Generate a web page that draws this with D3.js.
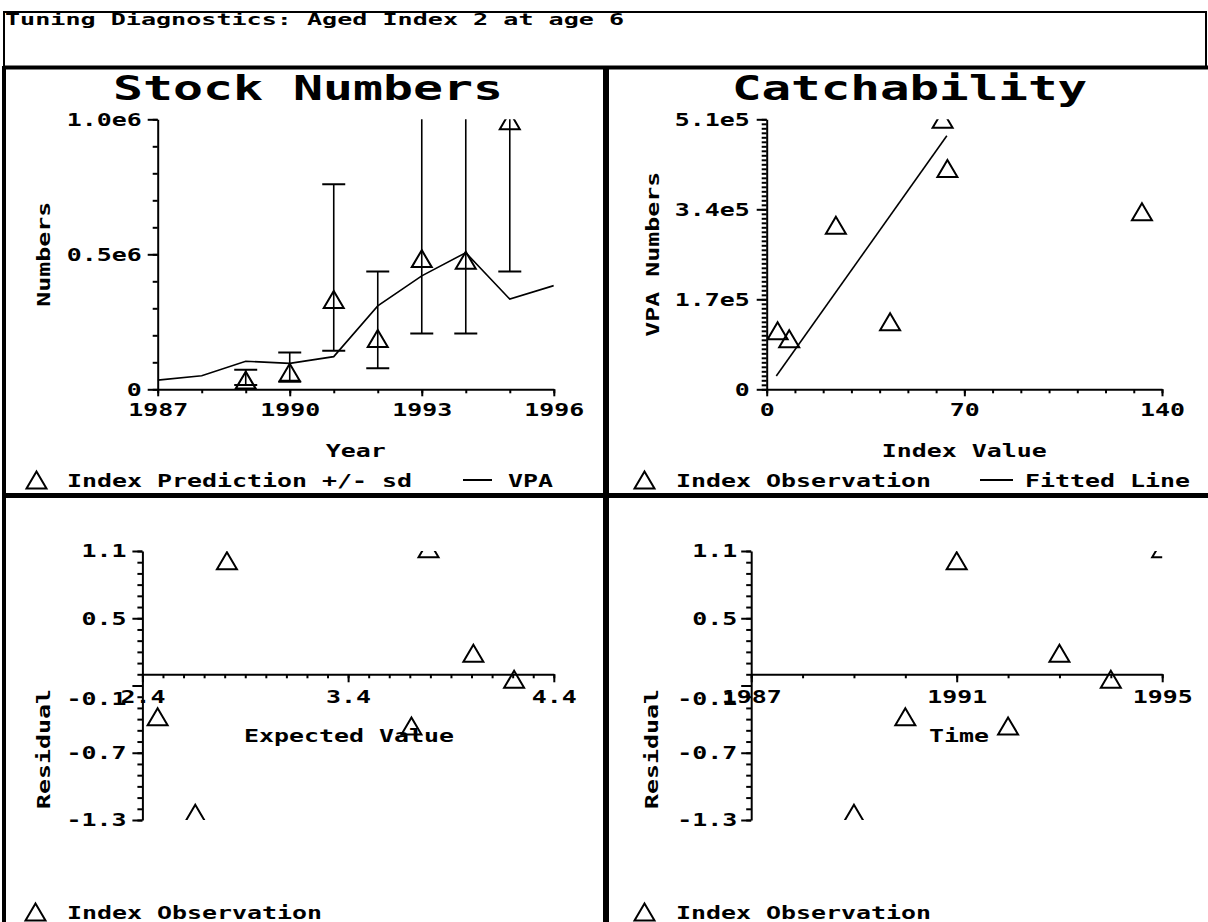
<!DOCTYPE html>
<html>
<head>
<meta charset="utf-8">
<script src="https://cdn.jsdelivr.net/npm/d3@7"></script>
<style>
  body { margin: 0; background: #fff; }
  svg { display: block; }
  text { font-family: "DejaVu Sans Mono", "Liberation Mono", monospace; font-weight: bold; fill: #000; }
</style>
</head>
<body>
<svg id="chart" width="1208" height="922"></svg>
<script>
// ---- Stock numbers: VPA by year ----
const vpaYears = [1987, 1988, 1989, 1990, 1991, 1992, 1993, 1994, 1995, 1996];
const vpaNumbers = [34000, 50000, 104000, 96000, 121000, 309000, 420000, 506000, 334000, 384000];

// ---- Index prediction +/- sd ----
const obsYears = [1989, 1990, 1991, 1992, 1993, 1994, 1995];
const predNumbers = [34000, 63000, 333000, 188000, 484000, 478000, 995000];
const predLow = [16000, 28000, 143000, 78000, 207000, 207000, 436000];
const predHigh = [72000, 136000, 759000, 436000, 1130000, 1100000, 2270000];

// ---- Catchability: index value vs VPA numbers ----
const indexValues = [3.86, 7.97, 24.5, 43.7, 64.0, 62.3, 132.9];
const vpaAtIndex = [110700, 95600, 309800, 127700, 417000, 510000, 335500];
const fittedX = [3.4, 63.8];
const fittedY = [25000, 479000];

// ---- Residuals ----
const expectedValues = [2.657, 2.474, 2.811, 3.708, 4.009, 4.207, 3.791];
const residuals = [-1.24, -0.378, 1.013, -0.461, 0.187, -0.045, 1.12];

// ---- Tick labels ----
const stockYTicks = [0, 500000, 1000000];
const stockYLabels = ["0", "0.5e6", "1.0e6"];
const stockXTicks = [1987, 1990, 1993, 1996];
const catchYTicks = [0, 170000, 340000, 510000];
const catchYLabels = ["0", "1.7e5", "3.4e5", "5.1e5"];
const catchXTicks = [0, 70, 140];
const residYTicks = [1.1, 0.5, -0.1, -0.7, -1.3];
const expectedXTicks = [2.4, 3.4, 4.4];
const timeXTicks = [1987, 1991, 1995];

const svg = d3.select("#chart");
const CW = 15;       // advance per character for the regular text
const FS = 18;       // regular font size

// Stretched monospace text, vertically centred on y
function txt(g, str, x, y, o = {}) {
  const size = o.size || FS, cw = o.cw || CW;
  return g.append("text")
    .attr("transform", `translate(${x},${y})` + (o.rotate ? ` rotate(${o.rotate})` : ""))
    .attr("x", 0).attr("y", 0.365 * size)
    .attr("font-size", size)
    .attr("text-anchor", o.anchor || "start")
    .attr("textLength", str.length * cw)
    .attr("lengthAdjust", "spacingAndGlyphs")
    .text(str);
}

const TRI = "M0,-8.5L10,8.5L-10,8.5Z";
function triangle(g, x, y) {
  return g.append("path").attr("d", TRI)
    .attr("transform", `translate(${x},${y})`)
    .attr("fill", "none").attr("stroke", "#000").attr("stroke-width", 2);
}

function styleAxis(g) {
  g.attr("font-family", null).attr("font-size", null).style("color", "#000");
  g.selectAll("path.domain, .tick line").attr("stroke-width", 2);
  g.selectAll(".tick text").each(function () {
    const s = this.textContent;
    d3.select(this).attr("font-size", FS)
      .attr("textLength", s.length * CW).attr("lengthAdjust", "spacingAndGlyphs");
  });
}

// Draws an axis: minor ticks with the axis line, then labelled major ticks
function drawAxis(g, axisFn, scale, minor, major, labelOf, size, pad, minorSize, translate) {
  const gm = g.append("g").attr("transform", translate)
    .call(axisFn(scale).tickValues(minor).tickSize(minorSize).tickSizeOuter(0).tickFormat(""));
  styleAxis(gm);
  const gM = g.append("g").attr("transform", translate)
    .call(axisFn(scale).tickValues(major).tickSize(size).tickPadding(pad).tickSizeOuter(0)
      .tickFormat((d, i) => labelOf(d, i)));
  gM.select("path.domain").remove();
  styleAxis(gM);
  return gM;
}

function clip(id, x0, y0, x1, y1) {
  svg.append("clipPath").attr("id", id).append("rect")
    .attr("x", x0).attr("y", y0).attr("width", x1 - x0).attr("height", y1 - y0);
}

// ---------- frame ----------
const frame = svg.append("g").attr("stroke", "#000").attr("fill", "none");
frame.append("rect").attr("x", 4).attr("y", 12).attr("width", 1202).attr("height", 56).attr("stroke-width", 2);
frame.append("line").attr("x1", 4).attr("x2", 4).attr("y1", 66).attr("y2", 922).attr("stroke-width", 4);
frame.append("line").attr("x1", 3).attr("x2", 1208).attr("y1", 67.5).attr("y2", 67.5).attr("stroke-width", 4);
frame.append("line").attr("x1", 606).attr("x2", 606).attr("y1", 66).attr("y2", 922).attr("stroke-width", 6);
frame.append("line").attr("x1", 3).attr("x2", 1208).attr("y1", 495.5).attr("y2", 495.5).attr("stroke-width", 5);

txt(svg, "Tuning Diagnostics: Aged Index 2 at age 6", 5, 18.5, { size: 16.5, cw: 15.1 });

// ---------- Panel 1: Stock Numbers ----------
{
  const g = svg.append("g");
  const x = d3.scaleLinear([1987, 1996], [157.7, 553.8]);
  const y = d3.scaleLinear([0, 1000000], [389.3, 119.3]);
  txt(g, "Stock Numbers", 308, 88, { size: 34, cw: 30, anchor: "middle" });

  drawAxis(g, d3.axisLeft, y, d3.range(0, 11).map(i => i * 100000), stockYTicks,
    (d, i) => stockYLabels[i], 10, 6, 5, `translate(${x(1987)},0)`);
  drawAxis(g, d3.axisBottom, x, vpaYears, stockXTicks, d => String(d), 7, 7, 4, `translate(0,${y(0)})`);

  txt(g, "Numbers", 43, (y(0) + y(1000000)) / 2, { rotate: -90, anchor: "middle" });
  txt(g, "Year", (x(1987) + x(1996)) / 2, 450, { anchor: "middle" });

  clip("clip1", x(1987), y(1000000), x(1996), y(0));
  const p = g.append("g").attr("clip-path", "url(#clip1)");
  p.append("path")
    .datum(vpaYears.map((yr, i) => [yr, vpaNumbers[i]]))
    .attr("d", d3.line().x(d => x(d[0])).y(d => y(d[1])))
    .attr("fill", "none").attr("stroke", "#000").attr("stroke-width", 1.6);
  obsYears.forEach((yr, i) => {
    const cx = x(yr);
    p.append("line").attr("x1", cx).attr("x2", cx).attr("y1", y(predLow[i])).attr("y2", y(predHigh[i]))
      .attr("stroke", "#000").attr("stroke-width", 1.6);
    [predLow[i], predHigh[i]].forEach(v => {
      p.append("line").attr("x1", cx - 11.5).attr("x2", cx + 11.5).attr("y1", y(v)).attr("y2", y(v))
        .attr("stroke", "#000").attr("stroke-width", 2);
    });
    triangle(p, cx, y(predNumbers[i]));
  });

  triangle(g, 36.5, 480);
  txt(g, "Index Prediction +/- sd", 67, 480);
  g.append("line").attr("x1", 463).attr("x2", 492).attr("y1", 480).attr("y2", 480).attr("stroke", "#000").attr("stroke-width", 2);
  txt(g, "VPA", 508, 480);
}

// ---------- Panel 2: Catchability ----------
{
  const g = svg.append("g");
  const x = d3.scaleLinear([0, 140], [766.7, 1162]);
  const y = d3.scaleLinear([0, 510000], [389.3, 119.3]);
  txt(g, "Catchability", 909.5, 88, { size: 34, cw: 29.6, anchor: "middle" });

  drawAxis(g, d3.axisLeft, y, d3.range(0, 61).map(i => i * 8500), catchYTicks,
    (d, i) => catchYLabels[i], 10, 7, 5, `translate(${x(0)},0)`);
  drawAxis(g, d3.axisBottom, x, d3.range(0, 15).map(i => i * 10), catchXTicks,
    d => String(d), 7, 7, 4, `translate(0,${y(0)})`);

  txt(g, "VPA Numbers", 652, (y(0) + y(510000)) / 2, { rotate: -90, anchor: "middle" });
  txt(g, "Index Value", (x(0) + x(140)) / 2, 450, { anchor: "middle" });

  clip("clip2", x(0), y(510000), x(140), y(0));
  const p = g.append("g").attr("clip-path", "url(#clip2)");
  p.append("path")
    .datum(fittedX.map((v, i) => [v, fittedY[i]]))
    .attr("d", d3.line().x(d => x(d[0])).y(d => y(d[1])))
    .attr("fill", "none").attr("stroke", "#000").attr("stroke-width", 1.6);
  indexValues.forEach((v, i) => triangle(p, x(v), y(vpaAtIndex[i])));

  triangle(g, 644.5, 480);
  txt(g, "Index Observation", 676, 480);
  g.append("line").attr("x1", 980).attr("x2", 1013).attr("y1", 480).attr("y2", 480).attr("stroke", "#000").attr("stroke-width", 2);
  txt(g, "Fitted Line", 1025, 480);
}

// ---------- Residual panels ----------
function residualPanel(xDomain, xRange, xMinor, xMajor, xFmt, xValues, xTitle, xTitleX, yLabelPad, resLabelX, legendX, id) {
  const g = svg.append("g");
  const x = d3.scaleLinear(xDomain, xRange);
  const y = d3.scaleLinear([-1.3, 1.1], [820, 551]);

  const gy = drawAxis(g, d3.axisLeft, y, d3.range(0, 25).map(i => Math.round((1.1 - i * 0.1) * 10) / 10),
    residYTicks, d => String(d), 10, yLabelPad, 5, `translate(${xRange[0]},0)`);
  // the label next to the zero line is pushed below it
  gy.selectAll(".tick text").filter(d => Math.abs(y(d) - y(0)) < 14).attr("y", 13);
  drawAxis(g, d3.axisBottom, x, xMinor, xMajor, xFmt, 8, 8, 4, `translate(0,${y(0)})`);

  txt(g, "Residual", resLabelX, 749, { rotate: -90, anchor: "middle" });
  txt(g, xTitle, xTitleX, 735, { anchor: "middle" });

  clip(id, xRange[0], y(1.1), xRange[1], y(-1.3));
  const p = g.append("g").attr("clip-path", `url(#${id})`);
  xValues.forEach((v, i) => triangle(p, x(v), y(residuals[i])));

  triangle(g, legendX, 912);
  txt(g, "Index Observation", legendX + 31.5, 912);
}

residualPanel([2.4, 4.4], [142.4, 553.8], d3.range(0, 21).map(i => 2.4 + i * 0.1), expectedXTicks,
  d => d.toFixed(1), expectedValues, "Expected Value", 349, 6, 43, 35.5, "clip3");
residualPanel([1987, 1995], [751.2, 1162.2], d3.range(1987, 1996), timeXTicks,
  d => String(d), obsYears, "Time", 959, 4, 651.5, 644.5, "clip4");
</script>
</body>
</html>
